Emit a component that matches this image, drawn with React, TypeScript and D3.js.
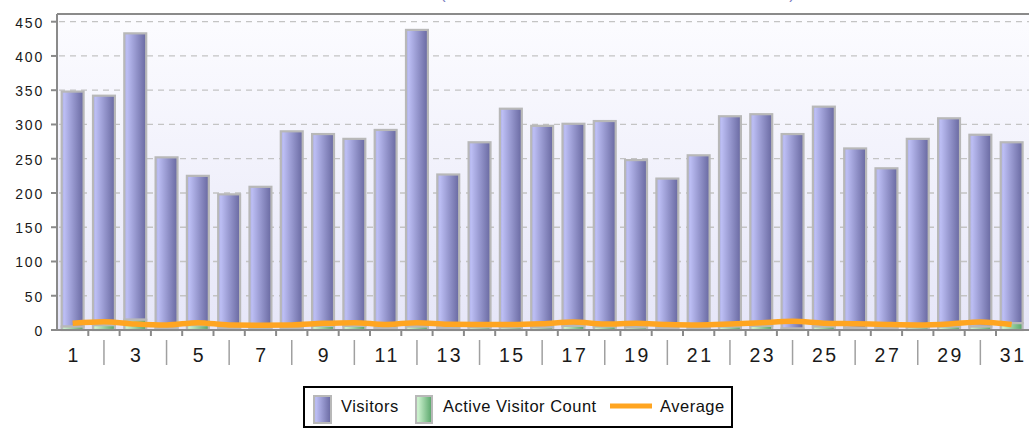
import React from "react";
import * as d3 from "d3";

const days: string[] = ["1","2","3","4","5","6","7","8","9","10","11","12","13","14","15","16","17","18","19","20","21","22","23","24","25","26","27","28","29","30","31"];
const visitors: number[] = [343,335,418,249,218,195,206,287,280,273,289,433,224,270,319,294,295,300,244,218,252,307,309,284,321,262,233,275,304,280,264];
const activeVisitors: number[] = [5,7,15,3,7,3,3,3,6,6,3,5,3,4,4,4,6,5,4,3,3,5,6,2,5,3,3,4,5,5,10];
const average: number[] = [9.8,12,8.7,7.3,10.7,7.3,7,7.3,9.7,10.7,8,10.7,8.4,8,8,9.2,11.7,8.7,9.7,8,7.3,8.7,10.7,12.6,10,9.2,8,7.3,8.7,11.7,8];
const yTicks: number[] = [0,50,100,150,200,250,300,350,400,450];
const legendLabels: string[] = ["Visitors","Active Visitor Count","Average"];

const W = 1029, H = 428;
const left = 57, top = 14, bottom = 330;
const font = "Arial, 'Liberation Sans', sans-serif";

export default function App() {
  const x = d3.scaleBand<string>().domain(days).range([left, left + 31 * 31.3]).paddingInner(0.3).paddingOuter(0.15);
  const y = d3.scaleLinear().domain([0, 450]).range([bottom, 21.7]);
  const step = x.step();
  const bw = x.bandwidth();
  const cx = (d: string) => (x(d) as number) + bw / 2;
  const line = d3.line<number>().x((_, i) => cx(days[i])).y((v) => y(v)).curve(d3.curveMonotoneX);

  return (
    <svg width={W} height={H} style={{ position: "absolute", left: 0, top: 0 }} fontFamily={font}>
      <defs>
        <linearGradient id="bg" x1="0" y1="0" x2="0" y2="1">
          <stop offset="0" stopColor="#fcfcff" />
          <stop offset="1" stopColor="#e6e6f8" />
        </linearGradient>
        <linearGradient id="pur" x1="0" y1="0" x2="1" y2="0">
          <stop offset="0" stopColor="#aeb0e6" />
          <stop offset="0.12" stopColor="#bcbef4" />
          <stop offset="1" stopColor="#6868a0" />
        </linearGradient>
        <linearGradient id="grn" x1="0" y1="0" x2="1" y2="0">
          <stop offset="0" stopColor="#b8e8bc" />
          <stop offset="0.12" stopColor="#cdf2cf" />
          <stop offset="1" stopColor="#56a468" />
        </linearGradient>
      </defs>
      <text x={443} y={-1} fill="#7b7bc0" fontSize={16} textAnchor="middle">(</text>
      <text x={792} y={-1} fill="#7b7bc0" fontSize={16} textAnchor="middle">)</text>

      <rect x={left} y={top} width={W - left} height={bottom - top} fill="url(#bg)" />
      {yTicks.filter((t) => t > 0).map((t) => (
        <line key={"g" + t} x1={left + 2} x2={W} y1={y(t)} y2={y(t)} stroke="#c4c4c4" strokeWidth={1.3} strokeDasharray="6,5" />
      ))}

      {days.map((d, i) => {
        const a = activeVisitors[i];
        const v = visitors[i];
        return (
          <g key={"b" + d}>
            <rect x={x(d)} y={y(a + v)} width={bw} height={y(a) - y(a + v)} fill="url(#pur)" stroke="#b8b8b8" strokeWidth={2.2} />
            <rect x={x(d)} y={y(a)} width={bw} height={y(0) - y(a)} fill="url(#grn)" stroke="#b8b8b8" strokeWidth={2.2} />
          </g>
        );
      })}

      <path d={line(average) as string} fill="none" stroke="#ffa521" strokeWidth={5.5} strokeLinejoin="round" />

      <line x1={left} x2={W} y1={top} y2={top} stroke="#8a8a8a" strokeWidth={2} />
      <line x1={left} x2={W} y1={bottom} y2={bottom} stroke="#8a8a8a" strokeWidth={2} />
      <line x1={left} x2={left} y1={top} y2={bottom + 1} stroke="#8a8a8a" strokeWidth={2} />

      {yTicks.map((t) => (
        <g key={"y" + t}>
          <line x1={51} x2={left} y1={y(t)} y2={y(t)} stroke="#8a8a8a" strokeWidth={2} />
          <text x={44} y={y(t) + 6} textAnchor="end" fontSize={14} letterSpacing={1.8} fill="#1a1a1a">{t}</text>
        </g>
      ))}

      {days.map((d, i) => (
        <g key={"x" + d}>
          {i > 0 && <line x1={(x(d) as number) - (step - bw) / 2} x2={(x(d) as number) - (step - bw) / 2} y1={bottom} y2={bottom + 6} stroke="#8a8a8a" strokeWidth={2} />}
          {i % 2 === 0 ? (
            <text x={cx(d) + 1.5} y={362} textAnchor="middle" fontSize={19.5} letterSpacing={2.5} fill="#1a1a1a">{d}</text>
          ) : (
            <line x1={cx(d)} x2={cx(d)} y1={340} y2={365} stroke="#a0a0a0" strokeWidth={1.5} />
          )}
        </g>
      ))}

      <rect x={304} y={387} width={428} height={40} fill="#ffffff" stroke="#000" strokeWidth={2} />
      <rect x={314} y={396} width={17} height={27} fill="url(#pur)" stroke="#b8b8b8" strokeWidth={2} />
      <text x={341} y={412} fontSize={16.5} letterSpacing={0.5} fill="#111">{legendLabels[0]}</text>
      <rect x={416} y={396} width={16} height={27} fill="url(#grn)" stroke="#b8b8b8" strokeWidth={2} />
      <text x={443} y={412} fontSize={16.5} letterSpacing={0.5} fill="#111">{legendLabels[1]}</text>
      <line x1={610} x2={652} y1={406} y2={406} stroke="#ffa521" strokeWidth={5} />
      <text x={660} y={412} fontSize={16.5} letterSpacing={0.5} fill="#111">{legendLabels[2]}</text>
    </svg>
  );
}
